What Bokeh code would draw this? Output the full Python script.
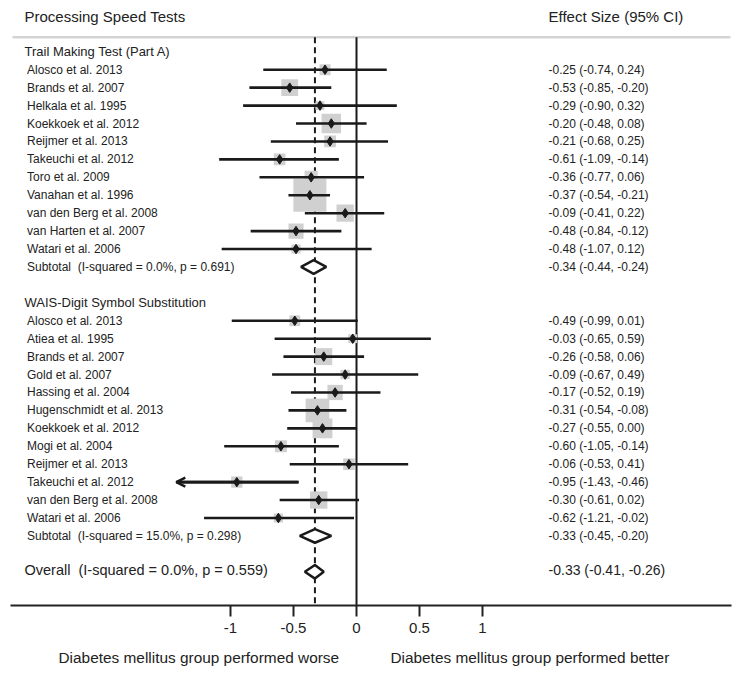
from bokeh.plotting import figure
from bokeh.models import (Range1d, LinearAxis, FixedTicker, ColumnDataSource,
                          Title, Arrow, OpenHead)
from bokeh.embed import file_html
from bokeh.resources import INLINE
from bokeh.core.properties import value

# ---------------- data ----------------
title_left = "Processing Speed Tests"
title_right = "Effect Size (95% CI)"

tmt_name = "Trail Making Test (Part A)"
tmt_studies = ["Alosco et al. 2013", "Brands et al. 2007", "Helkala et al. 1995",
               "Koekkoek et al. 2012", "Reijmer et al. 2013", "Takeuchi et al. 2012",
               "Toro et al. 2009", "Vanahan et al. 1996", "van den Berg et al. 2008",
               "van Harten et al. 2007", "Watari et al. 2006"]
tmt_es = [-0.25, -0.53, -0.29, -0.20, -0.21, -0.61, -0.36, -0.37, -0.09, -0.48, -0.48]
tmt_lo = [-0.74, -0.85, -0.90, -0.48, -0.68, -1.09, -0.77, -0.54, -0.41, -0.84, -1.07]
tmt_hi = [0.24, -0.20, 0.32, 0.08, 0.25, -0.14, 0.06, -0.21, 0.22, -0.12, 0.12]
tmt_weight = [2.2, 5.1, 1.4, 6.8, 2.5, 2.4, 3.1, 19.6, 5.4, 4.1, 1.5]
tmt_sub = [-0.34, -0.44, -0.24]
tmt_i2, tmt_p = 0.0, 0.691

wais_name = "WAIS-Digit Symbol Substitution"
wais_studies = ["Alosco et al. 2013", "Atiea et al. 1995", "Brands et al. 2007",
                "Gold et al. 2007", "Hassing et al. 2004", "Hugenschmidt et al. 2013",
                "Koekkoek et al. 2012", "Mogi et al. 2004", "Reijmer et al. 2013",
                "Takeuchi et al. 2012", "van den Berg et al. 2008", "Watari et al. 2006"]
wais_es = [-0.49, -0.03, -0.26, -0.09, -0.17, -0.31, -0.27, -0.60, -0.06, -0.95, -0.30, -0.62]
wais_lo = [-0.99, -0.65, -0.58, -0.67, -0.52, -0.54, -0.55, -1.05, -0.53, -1.43, -0.61, -1.21]
wais_hi = [0.01, 0.59, 0.06, 0.49, 0.19, -0.08, 0.00, -0.14, 0.41, -0.46, 0.02, -0.02]
wais_weight = [2.1, 1.4, 5.2, 1.6, 4.2, 10.1, 7.1, 2.6, 2.4, 2.3, 5.4, 1.5]
wais_sub = [-0.33, -0.45, -0.20]
wais_i2, wais_p = 15.0, 0.298

overall = [-0.33, -0.41, -0.26]
overall_i2, overall_p = 0.0, 0.559

x_ticks = [-1, -0.5, 0, 0.5, 1]
x_tick_labels = ["-1", "-0.5", "0", "0.5", "1"]
note_worse = "Diabetes mellitus group performed worse"
note_better = "Diabetes mellitus group performed better"

# ---------------- layout of rows ----------------
FONT = value("Liberation Sans")
TXT = "#222222"
INK = "#1a1a1a"
SP2 = "\u00a0\u00a0"
arrow_limit = -1.3          # CIs reaching past this get an arrow head

def fmt(es, lo, hi):
    return f"{es:.2f} ({lo:.2f}, {hi:.2f})"

study_rows, names, es_all, lo_all, hi_all, w_all = [], [], [], [], [], []
header_rows, header_txt = [], []
sub_rows, sub_txt, sub_vals = [], [], []

row = 0
for name, st, es, lo, hi, w, sub, i2, pv in [
        (tmt_name, tmt_studies, tmt_es, tmt_lo, tmt_hi, tmt_weight, tmt_sub, tmt_i2, tmt_p),
        (wais_name, wais_studies, wais_es, wais_lo, wais_hi, wais_weight, wais_sub, wais_i2, wais_p)]:
    header_rows.append(row); header_txt.append(name)
    row += 1
    for k in range(len(st)):
        study_rows.append(row); names.append(st[k])
        es_all.append(es[k]); lo_all.append(lo[k]); hi_all.append(hi[k]); w_all.append(w[k])
        row += 1
    sub_rows.append(row)
    sub_txt.append(f"Subtotal{SP2}(I-squared = {i2:.1f}%, p = {pv:.3f})")
    sub_vals.append(sub)
    row += 2
overall_row = row

studies = ColumnDataSource(dict(
    row=study_rows, name=names, es=es_all, lo=lo_all, hi=hi_all,
    box=[7.45 * w ** 0.5 for w in w_all],
    lab=[fmt(e, l, h) for e, l, h in zip(es_all, lo_all, hi_all)]))

# ---------------- figure ----------------
p = figure(width=739, height=677,
           x_range=Range1d(-2.746, 2.976), y_range=Range1d(30.88, -2.861),
           output_backend="svg", toolbar_location=None,
           x_axis_type=None, y_axis_type=None,
           min_border_left=10, min_border_right=8, min_border_top=0,
           min_border_bottom=72)
p.outline_line_color = None
p.xgrid.visible = False
p.ygrid.visible = False
p.background_fill_color = "white"
p.border_fill_color = "white"

ax = LinearAxis(ticker=FixedTicker(ticks=x_ticks),
                major_label_overrides={t: l for t, l in zip(x_ticks, x_tick_labels)})
ax.axis_line_width = 2
ax.axis_line_color = "#222222"
ax.major_tick_line_width = 2
ax.major_tick_line_color = "#222222"
ax.major_tick_in = 0
ax.major_tick_out = 11
ax.minor_tick_out = 0
ax.minor_tick_in = 0
ax.major_label_text_font = "Liberation Sans"
ax.major_label_text_font_size = "15px"
ax.major_label_text_color = TXT
ax.major_label_standoff = 6
p.add_layout(ax, "below")

gap = "\u00a0" * 12
p.add_layout(Title(text=note_worse + gap + note_better, align="left", offset=48,
                   text_font="Liberation Sans", text_font_size="15.4px",
                   text_font_style="normal", text_color=TXT, standoff=23), "below")

top_line = -0.81
bottom = 30.88

# header rule
p.segment(x0=[-2.73], y0=[top_line], x1=[2.968], y1=[top_line],
          line_color="#d4d4d4", line_width=2.5)
# reference lines
p.segment(x0=[0], y0=[top_line], x1=[0], y1=[bottom], line_color=INK, line_width=2)
p.segment(x0=[overall[0]], y0=[top_line], x1=[overall[0]], y1=[bottom],
          line_color=INK, line_width=2, line_dash="6 4")

# weight boxes, CIs, point estimates
p.scatter(x="es", y="row", size="box", marker="square", source=studies,
          fill_color="#d0d0d0", line_color=None)
p.segment(x0="lo", y0="row", x1="hi", y1="row", source=studies,
          line_color=INK, line_width=2.6)
p.scatter(x="es", y="row", size=9.5, marker="diamond", source=studies,
          fill_color=INK, line_color=INK)

for r, lo, hi in zip(study_rows, lo_all, hi_all):
    if lo < arrow_limit:
        p.add_layout(Arrow(end=OpenHead(size=9, line_width=2.6, line_color=INK),
                           x_start=hi, y_start=r, x_end=lo, y_end=r,
                           line_width=2.6, line_color=INK))

# pooled diamonds
dh = 0.38
dx, dy = [], []
for r, (e, l, h) in list(zip(sub_rows, sub_vals)) + [(overall_row, overall)]:
    dx.append([l, e, h, e])
    dy.append([r, r - dh, r, r + dh])
p.patches(xs=dx, ys=dy, fill_color="white", line_color=INK, line_width=2.5)

# ---------------- texts ----------------
x_left_title = -2.635
x_study = -2.615
x_val = 1.524

p.text(x=[x_left_title], y=[-1.97], text=[title_left], text_font=FONT,
       text_font_size="15px", text_baseline="middle", text_color=TXT)
p.text(x=[x_val], y=[-1.97], text=[title_right], text_font=FONT,
       text_font_size="15px", text_baseline="middle", text_color=TXT)
p.text(x=[x_left_title] * len(header_rows), y=header_rows, text=header_txt,
       text_font=FONT, text_font_size="13px", text_baseline="middle", text_color=TXT)
p.text(x=x_study, y="row", text="name", source=studies, text_font=FONT,
       text_font_size="12px", text_baseline="middle", text_color=TXT)
p.text(x=x_val, y="row", text="lab", source=studies, text_font=FONT,
       text_font_size="12px", text_baseline="middle", text_color=TXT)
p.text(x=[x_study] * len(sub_rows), y=sub_rows, text=sub_txt, text_font=FONT,
       text_font_size="12px", text_baseline="middle", text_color=TXT)
p.text(x=[x_val] * len(sub_rows), y=sub_rows, text=[fmt(*s) for s in sub_vals],
       text_font=FONT, text_font_size="12px", text_baseline="middle", text_color=TXT)
p.text(x=[x_left_title], y=[overall_row - 0.1],
       text=[f"Overall{SP2}(I-squared = {overall_i2:.1f}%, p = {overall_p:.3f})"],
       text_font=FONT, text_font_size="14.5px", text_baseline="middle", text_color=TXT)
p.text(x=[x_val], y=[overall_row - 0.1], text=[fmt(*overall)], text_font=FONT,
       text_font_size="14px", text_baseline="middle", text_color=TXT)

open("out.html", "w").write(file_html(p, INLINE))
